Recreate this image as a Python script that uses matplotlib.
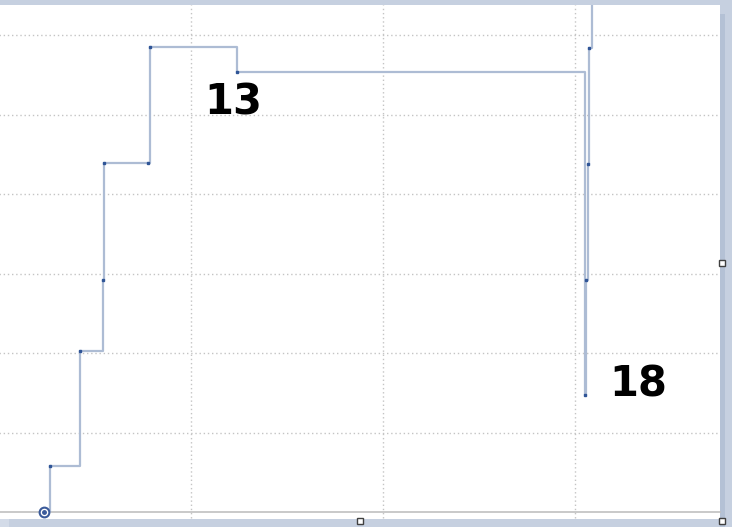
import matplotlib
matplotlib.use("Agg")
from matplotlib import pyplot as plt
from matplotlib.patches import Rectangle
from matplotlib.lines import Line2D

# step points (x grid step 10, y grid step 10)
step_x = [2.66, 2.66, 4.22, 5.42, 5.47, 7.76, 7.86, 12.40, 30.52, 30.57, 30.68, 30.73, 30.89]
step_y = [0.0, 5.8, 20.3, 29.2, 43.9, 43.9, 58.5, 55.3, 14.7, 29.2, 43.8, 58.4, 70.0]
start_x, start_y = 2.34, 0.0
x_grid = [10, 20, 30]
y_grid = [10, 20, 30, 40, 50, 60]
notes = [("13", 12.2, 51.5), ("18", 33.3, 16.0)]

W, H = 732, 527
fig = plt.figure(figsize=(W / 100, H / 100), dpi=100)
fig.patch.set_facecolor("#c6d0e0")

# white chart area and the darker edge strips of the frame
fig.add_artist(Rectangle((0, (H - 519) / H), 720 / W, 514 / H,
                         transform=fig.transFigure, facecolor="white", edgecolor="none", zorder=0))
fig.add_artist(Rectangle((720 / W, 0), 5 / W, (H - 14) / H,
                         transform=fig.transFigure, facecolor="#b4c1d5", edgecolor="none", zorder=0))
fig.add_artist(Rectangle((0, 0), 9 / W, 8 / H,
                         transform=fig.transFigure, facecolor="#d3dbe8", edgecolor="none", zorder=0))

ax = fig.add_axes([-1 / W, 15 / H, 721 / W, 507 / H])
ax.set_facecolor("none")
ax.set_xlim(0, 721 / 19.2)
ax.set_ylim(0, 507 / 7.95)

for s in ["left", "right", "top"]:
    ax.spines[s].set_visible(False)
ax.spines["bottom"].set_color("#c0c0c0")
ax.spines["bottom"].set_linewidth(1.2)
ax.set_xticks([])
ax.set_yticks([])

grid_style = dict(color="#c4c4c4", linewidth=1, linestyle=(0, (1, 2)), zorder=1)
ax.hlines(y_grid, 0, ax.get_xlim()[1], **grid_style)
ax.vlines(x_grid, -0.8, ax.get_ylim()[1], clip_on=False, **grid_style)

ax.step(step_x, step_y, where="post", color="#adbcd4", linewidth=1.6, zorder=3)
ax.plot(step_x[1:-1], step_y[1:-1], "s", color="#2f5597", markersize=2, zorder=4)
ax.plot([start_x], [start_y], "o", markerfacecolor="white", markeredgecolor="#3a5a9a",
        markeredgewidth=1.5, markersize=7, clip_on=False, zorder=5)
ax.plot([start_x], [start_y], "o", color="#3a5a9a", markersize=2.5, clip_on=False, zorder=6)

for txt, tx, ty in notes:
    ax.text(tx, ty, txt, fontsize=30, color="black", ha="center", va="center",
            fontweight="bold", zorder=7)

# selection handles
for hx, hy in [(722, 263), (360, 521), (722, 521)]:
    fig.add_artist(Line2D([hx / W], [(H - hy) / H], marker="s", markersize=4.5,
                          markerfacecolor="white", markeredgecolor="#404040",
                          markeredgewidth=1, transform=fig.transFigure, zorder=10))

fig.savefig("out.png", dpi=100)
